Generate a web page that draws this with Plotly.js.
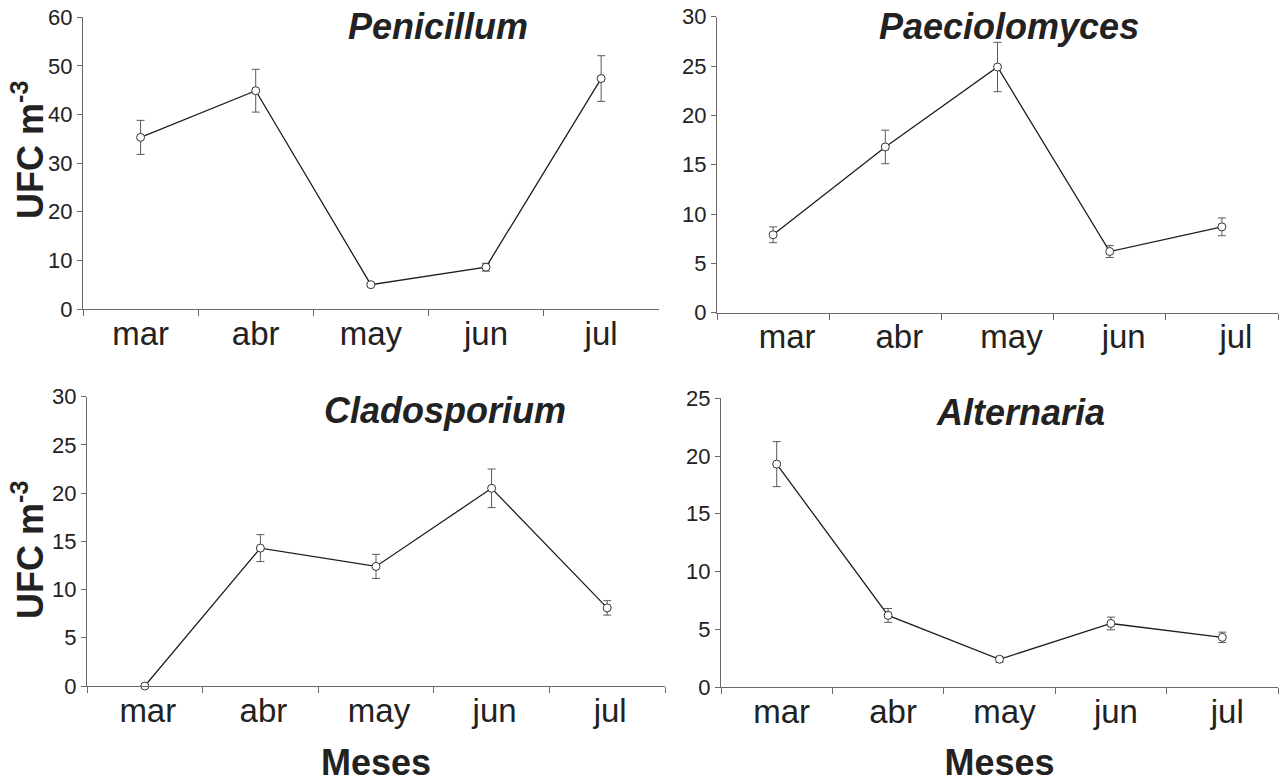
<!DOCTYPE html>
<html>
<head>
<meta charset="utf-8">
<script src="https://cdn.plot.ly/plotly-3.0.1.min.js"></script>
<style>html,body{margin:0;padding:0;background:#fff;}#chart{width:1283px;height:783px;}</style>
</head>
<body>
<div id="chart"></div>
<script>
// ---- data ----
const months = ["mar", "abr", "may", "jun", "jul"];

const penicillumMean = [35.3, 44.9, 5.0, 8.6, 47.4];
const penicillumErr  = [3.5, 4.4, 0.3, 0.8, 4.7];

const paeciolomycesMean = [7.9, 16.8, 24.9, 6.2, 8.7];
const paeciolomycesErr  = [0.8, 1.7, 2.5, 0.6, 0.9];

const cladosporiumMean = [0.0, 14.3, 12.4, 20.5, 8.1];
const cladosporiumErr  = [0.0, 1.4, 1.25, 2.0, 0.75];

const alternariaMean = [19.3, 6.2, 2.4, 5.5, 4.3];
const alternariaErr  = [1.95, 0.6, 0.25, 0.55, 0.45];

const panelTitles = ["Penicillum", "Paeciolomyces", "Cladosporium", "Alternaria"];
const yTitle = "UFC m<sup>-3</sup>";
const xTitle = "Meses";

// ---- styling ----
const FONT = '"Liberation Sans Narrow", "Arial Narrow", "Liberation Sans", Arial, sans-serif';
const AX = "#6a6a6a";
const TXT = "#222222";

function trace(mean, err, xa, ya) {
  return {
    type: "scatter", mode: "lines+markers",
    x: months, y: mean, xaxis: xa, yaxis: ya,
    line: {color: "#1e1e1e", width: 1.3},
    marker: {symbol: "circle", size: 8, color: "#ffffff", line: {color: "#333333", width: 1}},
    error_y: {type: "data", array: err, visible: true, color: "#5a5a5a", thickness: 1, width: 4},
    showlegend: false, cliponaxis: false
  };
}

const data = [
  trace(penicillumMean, penicillumErr, "x", "y"),
  trace(paeciolomycesMean, paeciolomycesErr, "x2", "y2"),
  trace(cladosporiumMean, cladosporiumErr, "x3", "y3"),
  trace(alternariaMean, alternariaErr, "x4", "y4")
];

const W = 1283, H = 783;
function xdom(a, b) { return [a / W, b / W]; }
function ydom(top, bottom) { return [1 - bottom / H, 1 - top / H]; }

function xaxis(dom, anchor, shift, title) {
  const ax = {
    domain: dom, anchor: anchor, type: "category", range: [-0.5, 4.5],
    showline: true, linecolor: AX, linewidth: 1,
    ticks: "outside", tickson: "boundaries", ticklen: 6, tickcolor: AX, tickwidth: 1,
    showgrid: false, zeroline: false,
    tickfont: {family: FONT, size: 33, color: TXT},
    ticklabelshift: shift, ticklabelstandoff: -5, fixedrange: true
  };
  if (title) {
    ax.title = {text: title, font: {family: FONT, size: 36, color: TXT, weight: "bold"}, standoff: 43};
  }
  return ax;
}
function yaxis(dom, anchor, max, dt) {
  return {
    domain: dom, anchor: anchor, range: [0, max], dtick: dt, tick0: 0,
    showline: true, linecolor: AX, linewidth: 1,
    ticks: "outside", ticklen: 5, tickcolor: AX, tickwidth: 1,
    showgrid: false, zeroline: false,
    tickfont: {family: FONT, size: 22, color: TXT}, fixedrange: true
  };
}

const titleAnn = [
  {text: panelTitles[0], x: 438 / W, y: 1 - 26 / H},
  {text: panelTitles[1], x: 1009 / W, y: 1 - 27 / H},
  {text: panelTitles[2], x: 445 / W, y: 1 - 410 / H},
  {text: panelTitles[3], x: 1020 / W, y: 1 - 412 / H}
].map(a => Object.assign(a, {
  xref: "paper", yref: "paper", xanchor: "center", yanchor: "middle", showarrow: false,
  font: {family: FONT, size: 36, color: TXT, weight: "bold", style: "italic"}
}));

const yTitleAnn = [
  {text: yTitle, x: 28 / W, y: 1 - 150 / H},
  {text: yTitle, x: 28 / W, y: 1 - 550 / H}
].map(a => Object.assign(a, {
  xref: "paper", yref: "paper", xanchor: "center", yanchor: "middle", showarrow: false,
  textangle: -90,
  font: {family: FONT, size: 36, color: TXT, weight: "bold"}
}));

const layout = {
  width: W, height: H,
  margin: {l: 0, r: 0, t: 0, b: 0},
  paper_bgcolor: "#ffffff", plot_bgcolor: "#ffffff",
  font: {family: FONT, color: TXT},
  xaxis:  xaxis(xdom(83, 658.7), "y", 0, null),
  yaxis:  yaxis(ydom(17.3, 309), "x", 60, 10),
  xaxis2: xaxis(xdom(717, 1278), "y2", 14, null),
  yaxis2: yaxis(ydom(16.7, 312.7), "x2", 30, 5),
  xaxis3: xaxis(xdom(87, 665), "y3", 3, xTitle),
  yaxis3: yaxis(ydom(396.7, 686), "x3", 30, 5),
  xaxis4: xaxis(xdom(721, 1278), "y4", 5, xTitle),
  yaxis4: yaxis(ydom(398.3, 687), "x4", 25, 5),
  annotations: titleAnn.concat(yTitleAnn)
};

Plotly.newPlot("chart", data, layout, {staticPlot: true, displayModeBar: false});
</script>
</body>
</html>
